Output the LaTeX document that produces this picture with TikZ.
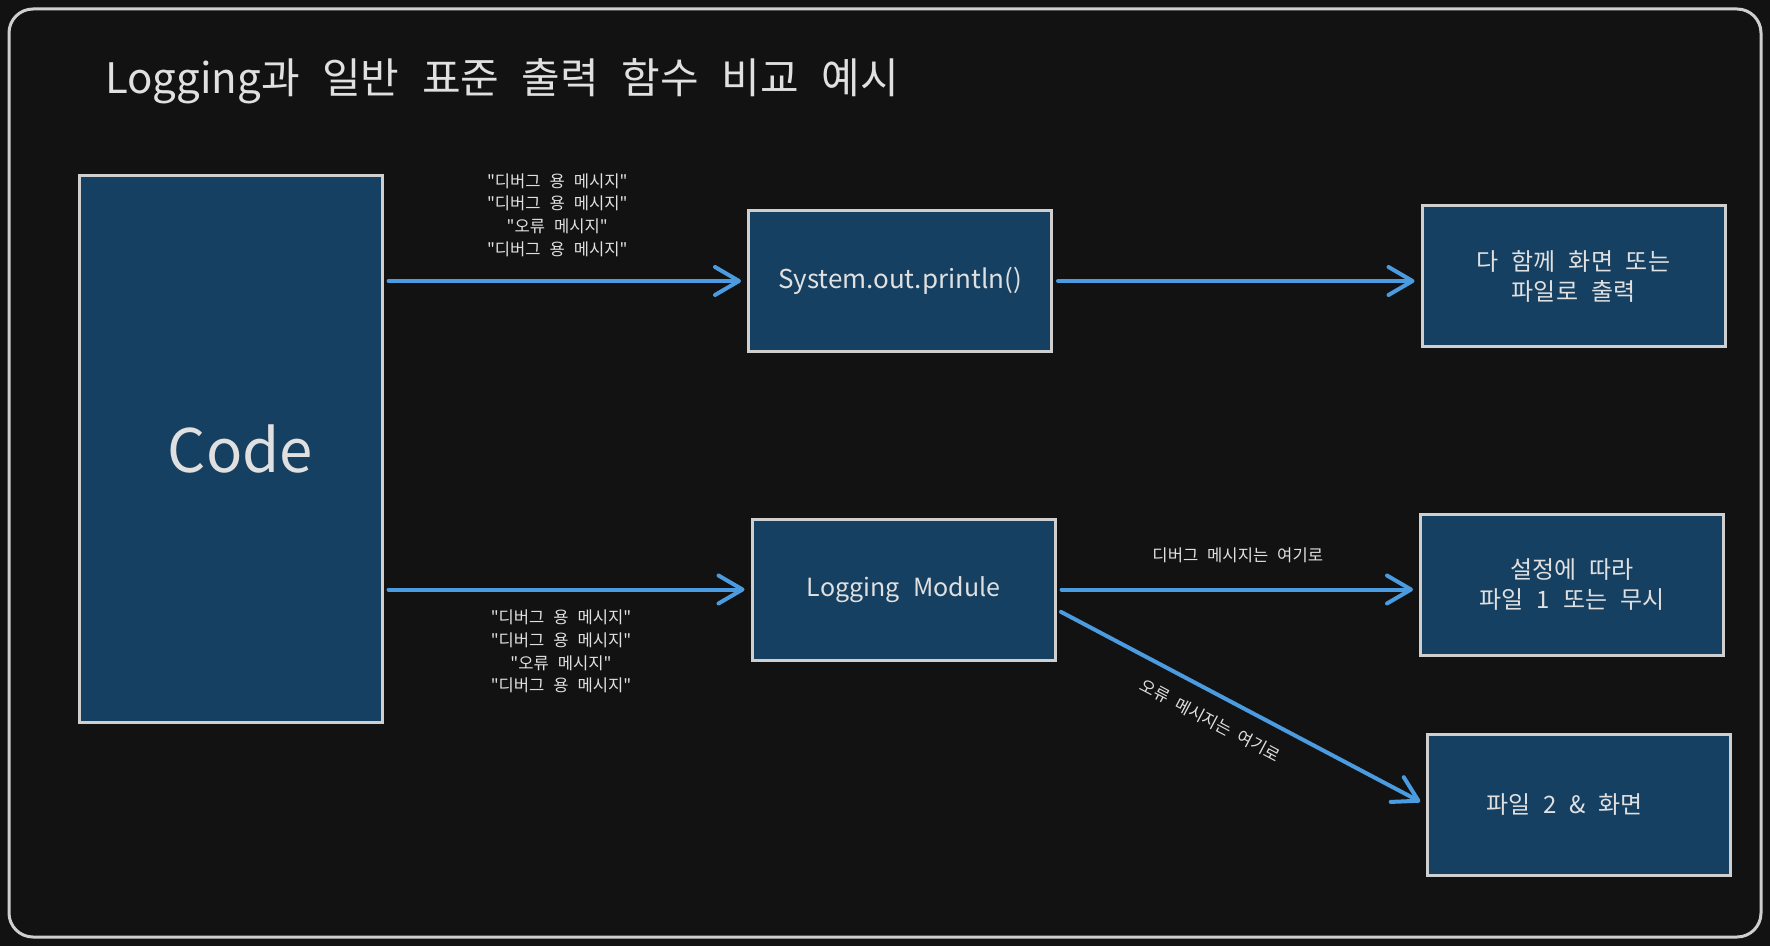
\documentclass[tikz,border=0pt]{standalone}
\usepackage{fontspec}
\setmainfont{Noto Sans CJK KR}[WordSpace=2.4, Ligatures=TeXOff]
\usetikzlibrary{arrows.meta, positioning, math}
\definecolor{bgdark}{HTML}{121212}
\definecolor{boxfill}{HTML}{164061}
\definecolor{boxline}{HTML}{CFCFCF}
\definecolor{flowblue}{HTML}{4B9BE0}
\definecolor{txtgray}{HTML}{E0E0E0}

\begin{document}
\begin{tikzpicture}[x=0.5pt, y=-0.5pt,
    box/.style={draw=boxline, fill=boxfill, line width=1.5pt, text=txtgray, align=center,
      minimum width=151.5pt, minimum height=70.5pt, font=\fontsize{12}{15}\selectfont},
    flow/.style={draw=flowblue, line width=2pt, line cap=round,
      -{Straight Barb[length=12pt, width=14pt, line cap=round, line join=round]},
      shorten <=2.5pt, shorten >=3pt},
    msg/.style={text=txtgray, align=center, font=\fontsize{8.3}{11.3}\selectfont}]
      \tikzmath{\fw = 1770; \fh = 946;}
      \fill[bgdark] (0,0) rectangle (\fw,\fh);
      \useasboundingbox (0,0) rectangle (\fw,\fh);
      \draw[boxline, line width=1.5pt, rounded corners=12pt] (9,9) rectangle (\fw - 9,\fh - 9);
      \node[anchor=west, text=txtgray, font=\fontsize{21}{25}\selectfont] (title) at (98,81) {Logging과 일반 표준 출력 함수 비교 예시};

      \node[box, minimum height=273pt,
        label={[text=txtgray, font=\fontsize{30}{36}\selectfont, xshift=5pt]center:Code}] (code) at (230.5,449) {};
      \node[box, font=\fontsize{13}{16}\selectfont] (sysout) at (900,281) {System.out.println()};
      \node[box, font=\fontsize{12.5}{15}\selectfont] (logmod) at (903.5,589.5) {Logging Module};
      \node[box] (outall) at (1573.5,276.5) {다 함께 화면 또는\\파일로 출력};
      \node[box] (outdbg) at (1572,585) {설정에 따라\\파일 1 또는 무시};
      \node[box, label={[text=txtgray, font=\fontsize{12}{15}\selectfont, xshift=-7pt]center:파일 2 \& 화면}] (outerr) at (1578.5,804.5) {};

      \draw[flow] (code.east |- sysout.west) -- (sysout.west)
        node[msg, midway, above=8pt, xshift=-4pt] {"디버그 용 메시지"\\"디버그 용 메시지"\\"오류 메시지"\\"디버그 용 메시지"};
      \draw[flow] (code.east |- logmod.west) -- (logmod.west)
        node[msg, midway, below=6pt, xshift=-3pt] {"디버그 용 메시지"\\"디버그 용 메시지"\\"오류 메시지"\\"디버그 용 메시지"};
      \draw[flow] (sysout.east) -- (sysout.east -| outall.west);
      \draw[flow] (logmod.east) -- (logmod.east -| outdbg.west)
        node[msg, midway, above=9pt] {디버그 메시지는 여기로};
      \draw[flow] ([yshift=-10pt]logmod.east) -- (outerr.west)
        node[msg, pos=0.45, sloped, below=5pt] {오류 메시지는 여기로};
    \end{tikzpicture}
\end{document}
